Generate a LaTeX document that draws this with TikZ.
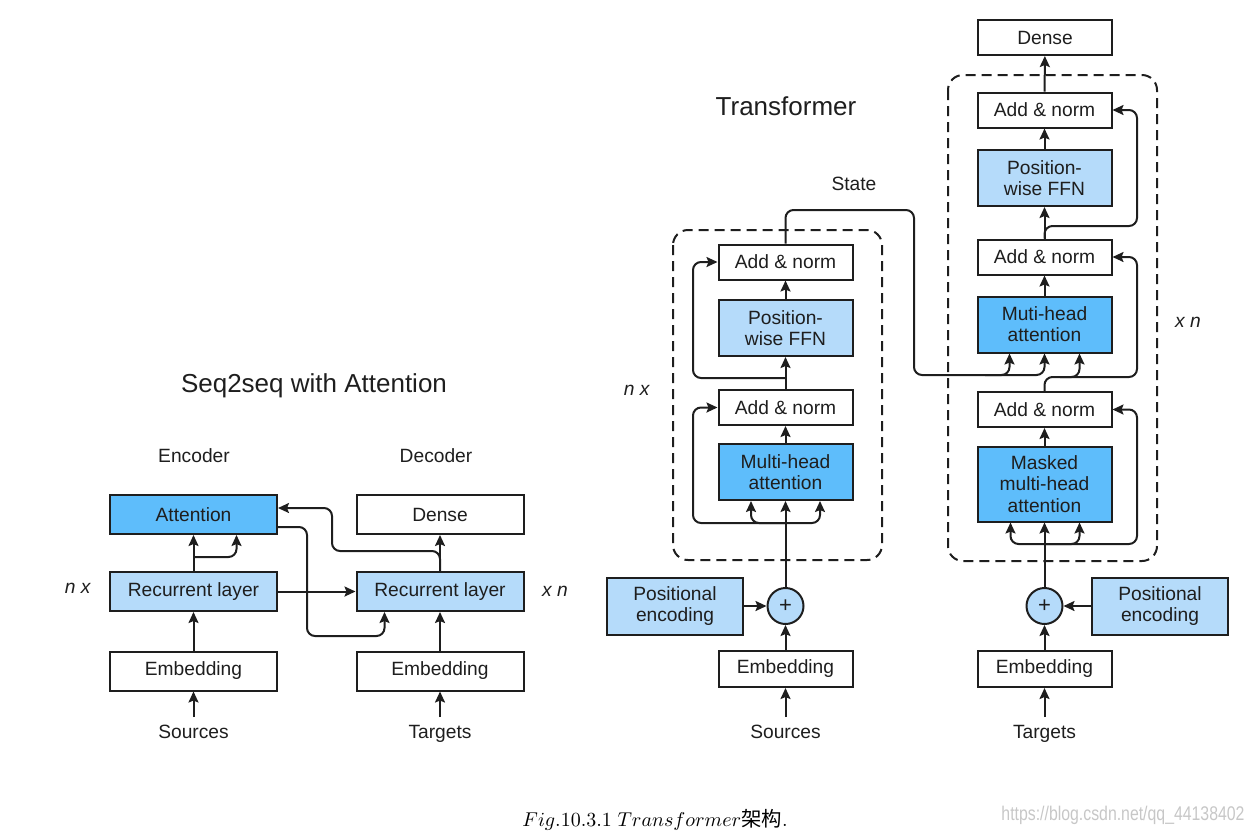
\documentclass[tikz,border=0pt]{standalone}
\usepackage{fontspec}
\setmainfont{Liberation Sans}
\newfontfamily\cjk{Noto Sans CJK SC}
\newfontfamily\wmfont[FakeStretch=0.8]{Liberation Sans}
\usetikzlibrary{arrows.meta,calc}
\definecolor{attnblue}{RGB}{94,189,251}
\definecolor{ffnblue}{RGB}{181,219,250}
\definecolor{ink}{RGB}{30,30,30}
\tikzset{every node/.style={draw = ink, line width = 1pt, inner sep = 0pt, align = center, text = ink, font = \fontsize{9.6}{10.6}\selectfont}}
\tikzset{every edge/.style={draw = ink, line width = 1pt, -{Stealth[length=5.5pt,width=5pt,inset=1pt]}}}
\tikzset{rnn/.style={minimum width = 83.5pt, minimum height = 19.5pt}}
\tikzset{blk/.style={minimum width = 67pt, minimum height = 17.5pt}}
\tikzset{tall/.style={minimum height = 28pt}}
\tikzset{attn/.style={fill = attnblue}}
\tikzset{ffn/.style={fill = ffnblue}}
\tikzset{plus/.style={circle, fill = ffnblue, minimum size = 18pt, font = \fontsize{11}{12}\selectfont}}
\tikzset{posenc/.style={fill = ffnblue, minimum width = 68pt, minimum height = 28.5pt}}
\tikzset{lbl/.style={draw = none, text height = 7pt, text depth = 1.9pt}}
\tikzset{title/.style={draw = none, font = \fontsize{13}{15}\selectfont}}
\tikzset{link/.style={draw = ink, line width = 1pt, rounded corners = 4pt, -{Stealth[length=5.5pt,width=5pt,inset=1pt]}}}
\tikzset{frame/.style={draw = ink, line width = 1pt, dash pattern = on 5pt off 3pt, rounded corners = 7.5pt}}

\begin{document}
\begin{tikzpicture}[x = 0.5pt, y = -0.5pt]
  \useasboundingbox (0,0) rectangle (1254,832);

  % Seq2seq with attention
  \node (s2s) [title] at (314,386) {Seq2seq with Attention};
  \node (encL) [lbl] at (194,457) {Encoder};
  \node (decL) [lbl] at (436,457) {Decoder};
  \node (nxL) [lbl] at (78,588) {\textit{n x}};
  \node (xnL) [lbl] at (555,591) {\textit{x n}};

  \node (attn) [rnn,attn] at (193.5,514.5) {Attention};
  \node (rnnE) [rnn,ffn] at (193.5,591.5) {Recurrent layer};
  \node (embE) [rnn] at (193.5,671) {Embedding};
  \node (src) [lbl] at (193.5,733) {Sources};

  \node (dense) [rnn] at (440,514.5) {Dense};
  \node (rnnD) [rnn,ffn] at (440,591.5) {Recurrent layer};
  \node (embD) [rnn] at (440,671) {Embedding};
  \node (tgt) [lbl] at (440,733) {Targets};

  \path (src) edge[shorten <= 3pt] (embE);
  \path (embE) edge (rnnE);
  \path (rnnE) edge (attn);
  \coordinate (eSplit) at (193.5,557);
  \draw[link] (eSplit) -| ($(attn.south)+(43,0)$);
  \path (rnnE) edge (rnnD);
  \coordinate (eTurn) at (307,636);
  \draw[link] ($(attn.east)+(0,12.5)$) -| (eTurn) -| ($(rnnD.south west)+(29,0)$);

  \path (tgt) edge[shorten <= 3pt] (embD);
  \path (embD) edge (rnnD);
  \path (rnnD) edge (dense);
  \coordinate (dTurn) at (332,551);
  \draw[link] (rnnD.north) |- (dTurn) |- ($(attn.east)+(0,-6.5)$);

  % Transformer
  \node (tTitle) [title] at (786,106) {Transformer};
  \node (state) [lbl] at (854,185) {State};
  \node (nxT) [lbl] at (637,390) {\textit{n x}};
  \node (xnT) [lbl] at (1188,322) {\textit{x n}};

  % encoder
  \draw[frame] (673,230) rectangle (882,560);
  \node (encAN2) [blk] at (785.5,262) {Add \& norm};
  \node (encFFN) [blk,tall,ffn] at (785.5,328) {Position-\\wise FFN};
  \node (encAN1) [blk] at (785.5,407.5) {Add \& norm};
  \node (encMHA) [blk,tall,attn] at (785.5,472) {Multi-head\\attention};
  \node (encPlus) [plus] at (785.5,606) {+};
  \node (encPE) [posenc] at (675,606) {Positional\\encoding};
  \node (encEmb) [blk,minimum height = 18pt] at (785.5,669) {Embedding};
  \node (srcT) [lbl] at (785.5,733) {Sources};

  \path (srcT) edge[shorten <= 3pt] (encEmb);
  \path (encEmb) edge (encPlus);
  \path (encPE) edge (encPlus);
  \path (encPlus) edge (encMHA);
  \coordinate (eb) at (785.5,523);
  \coordinate (er1) at (693,523);
  \draw[link] (eb) -| ($(encMHA.south)+(-34.5,0)$);
  \draw[link] (eb) -| ($(encMHA.south)+(34.5,0)$);
  \draw[link] (eb) -- (er1) |- (encAN1.west);
  \path (encMHA) edge (encAN1);
  \path (encAN1) edge (encFFN);
  \coordinate (eb2) at (785.5,378);
  \coordinate (er2) at (693,378);
  \draw[link] (eb2) -- (er2) |- (encAN2.west);
  \path (encFFN) edge (encAN2);

  % decoder
  \draw[frame] (948,75) rectangle (1157,561);
  \node (decDense) [blk] at (1045,37.5) {Dense};
  \node (decAN3) [blk] at (1044.5,110) {Add \& norm};
  \node (decFFN) [blk,tall,ffn] at (1044.5,178) {Position-\\wise FFN};
  \node (decAN2) [blk] at (1044.5,257) {Add \& norm};
  \node (decMHA) [blk,tall,attn] at (1044.5,324.5) {Muti-head\\attention};
  \node (decAN1) [blk] at (1044.5,409.5) {Add \& norm};
  \node (decMMHA) [blk,attn,minimum height = 37.5pt] at (1044.5,484) {Masked\\multi-head\\attention};
  \node (decPlus) [plus] at (1044.5,606) {+};
  \node (decPE) [posenc] at (1160,606) {Positional\\encoding};
  \node (decEmb) [blk,minimum height = 18pt] at (1044.5,669) {Embedding};
  \node (tgtT) [lbl] at (1044.5,733) {Targets};

  \path (tgtT) edge[shorten <= 3pt] (decEmb);
  \path (decEmb) edge (decPlus);
  \path (decPE) edge (decPlus);
  \path (decPlus) edge (decMMHA);
  \coordinate (db) at (1044.5,544);
  \coordinate (dr1) at (1137,544);
  \draw[link] (db) -| ($(decMMHA.south)+(-34,0)$);
  \draw[link] (db) -| ($(decMMHA.south)+(35,0)$);
  \draw[link] (db) -- (dr1) |- (decAN1.east);
  \path (decMMHA) edge (decAN1);
  \coordinate (dr2) at (1137,377);
  \coordinate (db2) at (1060,377);
  \draw[link] (decAN1.north) |- (dr2) |- (decAN2.east);
  \draw[link] (db2) -| ($(decMHA.south)+(35,0)$);
  \path (decMHA) edge (decAN2);
  \path (decAN2) edge (decFFN);
  \coordinate (dr3) at (1137,226);
  \draw[link] (decAN2.north) |- (dr3) |- (decAN3.east);
  \path (decFFN) edge (decAN3);
  \path (decAN3) edge (decDense);

  % state from encoder to decoder
  \coordinate (st1) at (914,210);
  \coordinate (st2) at (1044.5,375);
  \coordinate (st3) at (985,375);
  \draw[link] (encAN2.north) |- (st1) |- (st2) -- (decMHA.south);
  \draw[link] (st3) -| ($(decMHA.south)+(-35,0)$);

  % caption
  \node (cap) [draw = none, font = \fontsize{10.2}{12}\selectfont, text = black] at (655,820) {$Fig.10.3.1\ Transformer${\cjk 架构}$.$};
  \node (wm) [draw = none, text = black!22, font = \wmfont\fontsize{9.9}{11}\selectfont] at (1123,815) {https://blog.csdn.net/qq\_44138402};
\end{tikzpicture}
\end{document}
